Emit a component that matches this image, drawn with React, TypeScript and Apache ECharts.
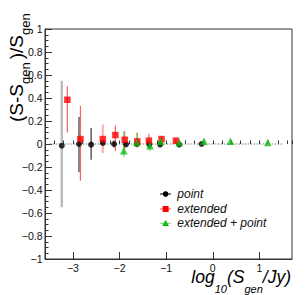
import React, { useEffect, useRef } from "react";
import * as echarts from "echarts";

// ---- data ----
const pointX = [-3.24, -2.87, -2.61, -2.36, -2.12, -1.86, -1.63, -1.36, -1.13, -0.72, -0.24];
const pointY = [-0.015, 0.0, -0.006, 0.009, 0.0, -0.003, 0.0, -0.005, -0.005, -0.005, 0.0];
const pointLow = [-0.55, -0.245, -0.137, -0.04, -0.03, -0.02, -0.015, -0.015, -0.012, -0.012, -0.008];
const pointHigh = [0.55, 0.235, 0.14, 0.05, 0.03, 0.02, 0.015, 0.01, 0.008, 0.008, 0.006];

const extX = [-3.12, -2.84, -2.36, -2.09, -1.89, -1.62, -1.37, -1.1, -0.79];
const extY = [0.385, 0.043, 0.043, 0.078, 0.037, 0.023, 0.029, 0.043, 0.029];
const extLow = [0.1, -0.32, -0.08, -0.06, -0.05, -0.03, -0.03, 0.0, 0.0];
const extHigh = [0.5, 0.333, 0.17, 0.16, 0.11, 0.1, 0.09, 0.06, 0.05];

const epX = [-1.91, -1.63, -1.35, -1.12, -0.72, -0.19, 0.38, 1.18];
const epY = [-0.058, 0.014, -0.015, 0.023, 0.014, 0.023, 0.023, 0.014];
const epLow = [-0.11, -0.02, -0.06, -0.01, -0.01, 0.005, 0.013, 0.005];
const epHigh = [0.11, 0.095, 0.02, 0.05, 0.04, 0.04, 0.033, 0.023];

const zeroLineX = [-3.5, 1.5];

const legendNames = ["point", "extended", "extended + point"];

// axis titles: [text, isSubscript]
const xTitlePieces: [string, boolean][] = [["log", false], ["10", true], ["(S", false], ["gen", true], ["/Jy)", false]];
const yTitlePieces: [string, boolean][] = [["(S-S", false], ["gen", true], [")/S", false], ["gen", true]];

const X_MIN = -3.6;
const X_MAX = 1.7;
const Y_MIN = -1;
const Y_MAX = 1;

const FONT = "'Liberation Sans', Arial, Helvetica, sans-serif";
const CENTRAL = 0.3465; // central baseline offset above alphabetic baseline (em)

function fmt(v: number): string {
  const r = parseFloat(v.toFixed(1));
  if (r === 0) return "0";
  return r < 0 ? "\u2212" + String(Math.abs(r)) : String(r);
}

let measureCtx: CanvasRenderingContext2D | null = null;
function measure(text: string, size: number, italic: boolean): number {
  if (!measureCtx) measureCtx = document.createElement("canvas").getContext("2d");
  if (!measureCtx) return text.length * size * 0.55;
  measureCtx.font = (italic ? "italic " : "") + size + "px " + FONT;
  return measureCtx.measureText(text).width;
}

// Lays the title out along its reading direction, then maps each piece to the
// page with a rotation (0 = horizontal, 90 = reading upwards).
function buildTitle(
  pieces: [string, boolean][],
  mainSize: number,
  subSize: number,
  drop: number,
  italic: boolean,
  gapAfterSub: number,
  startX: number,
  baseY: number,
  vertical: boolean
) {
  let cursor = 0;
  const out: any[] = [];
  pieces.forEach(([t, sub], i) => {
    const size = sub ? subSize : mainSize;
    const across = (sub ? drop : 0) - CENTRAL * size; // offset of text centre from main baseline
    const x = vertical ? startX + across : startX + cursor;
    const y = vertical ? baseY - cursor : baseY + across;
    out.push({
      type: "text",
      x,
      y,
      rotation: vertical ? Math.PI / 2 : 0,
      style: {
        text: t,
        fontSize: size,
        fontFamily: FONT,
        fontStyle: italic ? "italic" : "normal",
        fill: "#000",
        align: "left",
        verticalAlign: "middle",
      },
    });
    cursor += measure(t, size, italic);
    if (sub && i < pieces.length - 1) cursor += gapAfterSub;
  });
  return { out, width: cursor };
}

function errSeries(xs: number[], lo: number[], hi: number[], styleFor: (i: number) => { stroke: string; lineWidth: number }) {
  return {
    type: "custom",
    coordinateSystem: "cartesian2d",
    xAxisIndex: 0,
    yAxisIndex: 0,
    z: 2,
    silent: true,
    data: xs.map((x, i) => [x, lo[i], hi[i]]),
    encode: { x: 0, y: [1, 2] },
    renderItem: (params: any, api: any) => {
      const x = api.value(0);
      const p1 = api.coord([x, api.value(1)]);
      const p2 = api.coord([x, api.value(2)]);
      const st = styleFor(params.dataIndex);
      return {
        type: "line",
        shape: { x1: p1[0], y1: p1[1], x2: p2[0], y2: p2[1] },
        style: { stroke: st.stroke, lineWidth: st.lineWidth },
      };
    },
  };
}

export default function App() {
  const ref = useRef<HTMLDivElement>(null);
  useEffect(() => {
    document.body.style.margin = "0";
    if (!ref.current) return;
    const chart = echarts.init(ref.current, null, { renderer: "svg" });

    const xw = buildTitle(xTitlePieces, 17.5, 11, 9.5, true, 0, 0, 0, false).width;
    const xt = buildTitle(xTitlePieces, 17.5, 11, 9.5, true, 0, 291 - xw, 283.5, false);
    const yt = buildTitle(yTitlePieces, 19, 13, 7, false, 3, 23.3, 122, true);

    const legendY = [194, 209, 223.3];
    const legendLine = ["#000", "#ff5050", "#77dd77"];
    const lx1 = 160, lx2 = 171, lcx = 165.6, ltx = 177.3;

    const legendGraphics: any[] = [];
    legendNames.forEach((name, i) => {
      const y = legendY[i];
      legendGraphics.push({
        type: "line",
        shape: { x1: lx1, y1: y, x2: lx2, y2: y },
        style: { stroke: legendLine[i], lineWidth: 1 },
      });
      if (i === 0) {
        legendGraphics.push({ type: "circle", shape: { cx: lcx, cy: y, r: 2.8 }, style: { fill: "#000" } });
      } else if (i === 1) {
        legendGraphics.push({ type: "rect", shape: { x: lcx - 3, y: y - 3, width: 6, height: 6 }, style: { fill: "#ff0000" } });
      } else {
        legendGraphics.push({
          type: "polygon",
          shape: { points: [[lcx, y - 3.4], [lcx + 3.4, y + 2.8], [lcx - 3.4, y + 2.8]] },
          style: { fill: "#11bb11" },
        });
      }
      legendGraphics.push({
        type: "text",
        x: ltx,
        y: y,
        style: {
          text: name,
          fontSize: 12,
          fontStyle: "italic",
          fontFamily: FONT,
          fill: "#111",
          align: "left",
          verticalAlign: "middle",
        },
      });
    });

    const option: any = {
      animation: false,
      backgroundColor: "#fff",
      grid: {
        left: 45,
        right: 15,
        top: 29,
        bottom: 36,
        show: true,
        borderColor: "#333",
        borderWidth: 1,
        containLabel: false,
      },
      xAxis: [
        {
          type: "value",
          min: X_MIN,
          max: X_MAX,
          splitNumber: 5,
          axisLine: { show: true, onZero: false, lineStyle: { color: "#333", width: 1 } },
          axisTick: { show: true, inside: true, length: 7, lineStyle: { color: "#333" } },
          splitLine: { show: false },
          axisLabel: {
            show: true,
            margin: 3.5,
            fontSize: 10.5,
            fontFamily: FONT,
            color: "#111",
            showMinLabel: false,
            showMaxLabel: false,
            formatter: (v: number) => (Math.abs(v - Math.round(v)) < 1e-6 ? fmt(Math.round(v)) : ""),
          },
        },
        {
          type: "value",
          min: X_MIN,
          max: X_MAX,
          interval: 0.2,
          position: "bottom",
          axisLine: { show: false },
          axisTick: { show: true, inside: true, length: 3.5, lineStyle: { color: "#333" } },
          axisLabel: { show: false },
          splitLine: { show: false },
        },
      ],
      yAxis: {
        type: "value",
        min: Y_MIN,
        max: Y_MAX,
        interval: 0.2,
        axisLine: { show: true, onZero: false, lineStyle: { color: "#333", width: 1 } },
        axisTick: { show: true, inside: true, length: 7, lineStyle: { color: "#333" } },
        minorTick: { show: true, splitNumber: 4, length: 3.5, lineStyle: { color: "#333" } },
        splitLine: { show: false },
        axisLabel: {
          show: true,
          margin: 2.5,
          fontSize: 10.5,
          fontFamily: FONT,
          color: "#111",
          formatter: (v: number) => fmt(v),
        },
      },
      graphic: [...xt.out, ...yt.out, ...legendGraphics],
      series: [
        {
          type: "line",
          xAxisIndex: 0,
          data: zeroLineX.map((x) => [x, 0]),
          symbol: "none",
          z: 1,
          silent: true,
          lineStyle: { color: "#777", width: 1, type: [1.5, 1.5] },
        },
        errSeries(pointX, pointLow, pointHigh, (i) =>
          i === 0 ? { stroke: "#bcbcbc", lineWidth: 2.5 } : { stroke: "#444", lineWidth: 1.3 }
        ),
        errSeries(extX, extLow, extHigh, (i) =>
          i === 2 ? { stroke: "#ffaaaa", lineWidth: 2 } : { stroke: "#ff6060", lineWidth: 1.2 }
        ),
        errSeries(epX, epLow, epHigh, () => ({ stroke: "#66dd66", lineWidth: 1.2 })),
        {
          type: "scatter",
          name: legendNames[0],
          xAxisIndex: 0,
          z: 3,
          symbol: "circle",
          symbolSize: 6,
          itemStyle: { color: "#000" },
          data: pointX.map((x, i) => [x, pointY[i]]),
        },
        {
          type: "scatter",
          name: legendNames[1],
          xAxisIndex: 0,
          z: 4,
          symbol: "rect",
          symbolSize: 6.5,
          itemStyle: { color: "#ff0000" },
          data: extX.map((x, i) => [x, extY[i]]),
        },
        {
          type: "scatter",
          name: legendNames[2],
          xAxisIndex: 0,
          z: 5,
          symbol: "triangle",
          symbolSize: 7.5,
          itemStyle: { color: "#11bb11" },
          data: epX.map((x, i) => [x, epY[i]]),
        },
      ],
    };
    chart.setOption(option);
    return () => chart.dispose();
  }, []);
  return (
    <div
      ref={ref}
      style={{ position: "absolute", left: 0, top: 0, width: 307, height: 295 }}
    />
  );
}
